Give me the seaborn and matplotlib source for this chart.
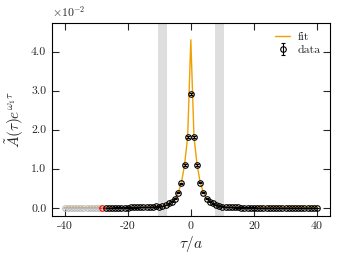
import numpy as np
import pandas as pd
import matplotlib
matplotlib.use("Agg")
import matplotlib.pyplot as plt
import seaborn as sns

# ====================== data (units of 1e-2) ======================
tau = list(range(-40, 41))
data_vals = [
    # tau -40 .. -31
    0.002, 0.002, 0.002, 0.002, 0.002, 0.002, 0.002, 0.002, 0.002, 0.002,
    # tau -30 .. -21
    0.002, 0.002, 0.002, 0.003, 0.003, 0.003, 0.004, 0.004, 0.005, 0.006,
    # tau -20 .. -11
    0.007, 0.008, 0.009, 0.010, 0.012, 0.014, 0.017, 0.021, 0.027, 0.035,
    # tau -10 .. -1
    0.030, 0.045, 0.07, 0.11, 0.16, 0.23, 0.38, 0.63, 1.09, 1.82,
    # tau 0
    2.92,
    # tau 1 .. 10
    1.82, 1.09, 0.64, 0.39, 0.23, 0.16, 0.11, 0.07, 0.045, 0.030,
    # tau 11 .. 20
    0.022, 0.017, 0.013, 0.010, 0.008, 0.007, 0.006, 0.005, 0.004, 0.004,
    # tau 21 .. 30
    0.003, 0.003, 0.003, 0.003, 0.002, 0.002, 0.002, 0.002, 0.002, 0.002,
    # tau 31 .. 40
    0.002, 0.002, 0.002, 0.002, 0.002, 0.002, 0.002, 0.002, 0.002, 0.003,
]
data_err = ([0.004] * 34
            + [0.008, 0.01, 0.012, 0.015, 0.02, 0.025, 0.03, 0.025, 0.02, 0.015, 0.012, 0.01, 0.008]
            + [0.004] * 34)
fit_vals = [
    0.002, 0.002, 0.002, 0.002, 0.002, 0.002, 0.002, 0.002, 0.002, 0.002,
    0.002, 0.002, 0.002, 0.003, 0.003, 0.003, 0.004, 0.004, 0.005, 0.006,
    0.007, 0.008, 0.009, 0.010, 0.012, 0.014, 0.017, 0.021, 0.027, 0.035,
    0.030, 0.045, 0.07, 0.11, 0.16, 0.23, 0.38, 0.63, 1.09, 1.82,
    4.30,
    1.82, 1.09, 0.64, 0.39, 0.23, 0.16, 0.11, 0.07, 0.045, 0.030,
    0.022, 0.017, 0.013, 0.010, 0.008, 0.007, 0.006, 0.005, 0.004, 0.004,
    0.003, 0.003, 0.003, 0.003, 0.002, 0.002, 0.002, 0.002, 0.002, 0.002,
    0.002, 0.002, 0.002, 0.002, 0.002, 0.002, 0.002, 0.002, 0.002, 0.003,
]
tau_cut = -28           # first point used in the fit (red)
excluded_bands = [(-10.4, -7.6), (7.6, 10.4)]

df = pd.DataFrame({"tau": tau, "val": np.array(data_vals) * 1e-2,
                   "err": np.array(data_err) * 1e-2, "fit": np.array(fit_vals) * 1e-2})

# ====================== style ======================
sns.set_theme(style="ticks")
plt.rcParams["font.family"] = ["cmr10", "DejaVu Serif"]
plt.rcParams["mathtext.fontset"] = "cm"
plt.rcParams["axes.unicode_minus"] = False
plt.rcParams["axes.formatter.use_mathtext"] = True

fig = plt.figure(figsize=(3.46, 2.6), dpi=100)
ax = fig.add_axes([0.150, 0.170, 0.803, 0.743])

for lo, hi in excluded_bands:
    ax.axvspan(lo, hi, color="#d9d9d9", alpha=0.85, lw=0, zorder=0)

sns.lineplot(data=df, x="tau", y="fit", ax=ax, color="#f0a000", lw=1.0,
             label="fit", zorder=2)

gray = df[df.tau < tau_cut]
red = df[df.tau == tau_cut]
used = df[df.tau > tau_cut]

ax.errorbar(gray.tau, gray.val, yerr=gray.err, fmt="o", ms=4, mfc="none",
            mec="#bbbbbb", ecolor="#bbbbbb", mew=0.8, capsize=1.5, elinewidth=0.8, zorder=3)
ax.errorbar(red.tau, red.val, yerr=red.err, fmt="o", ms=4, mfc="none",
            mec="red", ecolor="red", mew=0.8, capsize=1.5, elinewidth=0.8, zorder=3)
ax.errorbar(used.tau, used.val, yerr=used.err, fmt="o", ms=4, mfc="none",
            mec="black", ecolor="black", mew=0.8, capsize=1.5, elinewidth=0.8,
            label="data", zorder=3)

ax.set_xlim(-44, 44)
ax.set_ylim(-0.205e-2, 4.74e-2)
ax.set_xticks([-40, -20, 0, 20, 40])
ax.set_xticklabels(["-40", "-20", "0", "20", "40"])
ax.set_yticks([0, 0.01, 0.02, 0.03, 0.04])
ax.set_yticklabels(["0.0", "1.0", "2.0", "3.0", "4.0"])
ax.text(0.0, 1.02, r"$\times10^{-2}$", transform=ax.transAxes, fontsize=8.5,
        ha="left", va="bottom")

ax.tick_params(direction="in", top=True, right=True, length=5, width=0.8,
               labelsize=8.5, pad=4)
for s in ax.spines.values():
    s.set_linewidth(0.8)
    s.set_color("black")

ax.set_xlabel(r"$\tau/a$", fontsize=11, labelpad=2)
ax.set_ylabel(r"$\tilde{A}(\tau)e^{\omega_1\tau}$", fontsize=11, labelpad=4)

ax.legend(loc="upper right", frameon=False, fontsize=8.5, handlelength=1.3,
          handletextpad=0.6, labelspacing=0.2, borderaxespad=0.4)

fig.savefig("out.png", dpi=100)
